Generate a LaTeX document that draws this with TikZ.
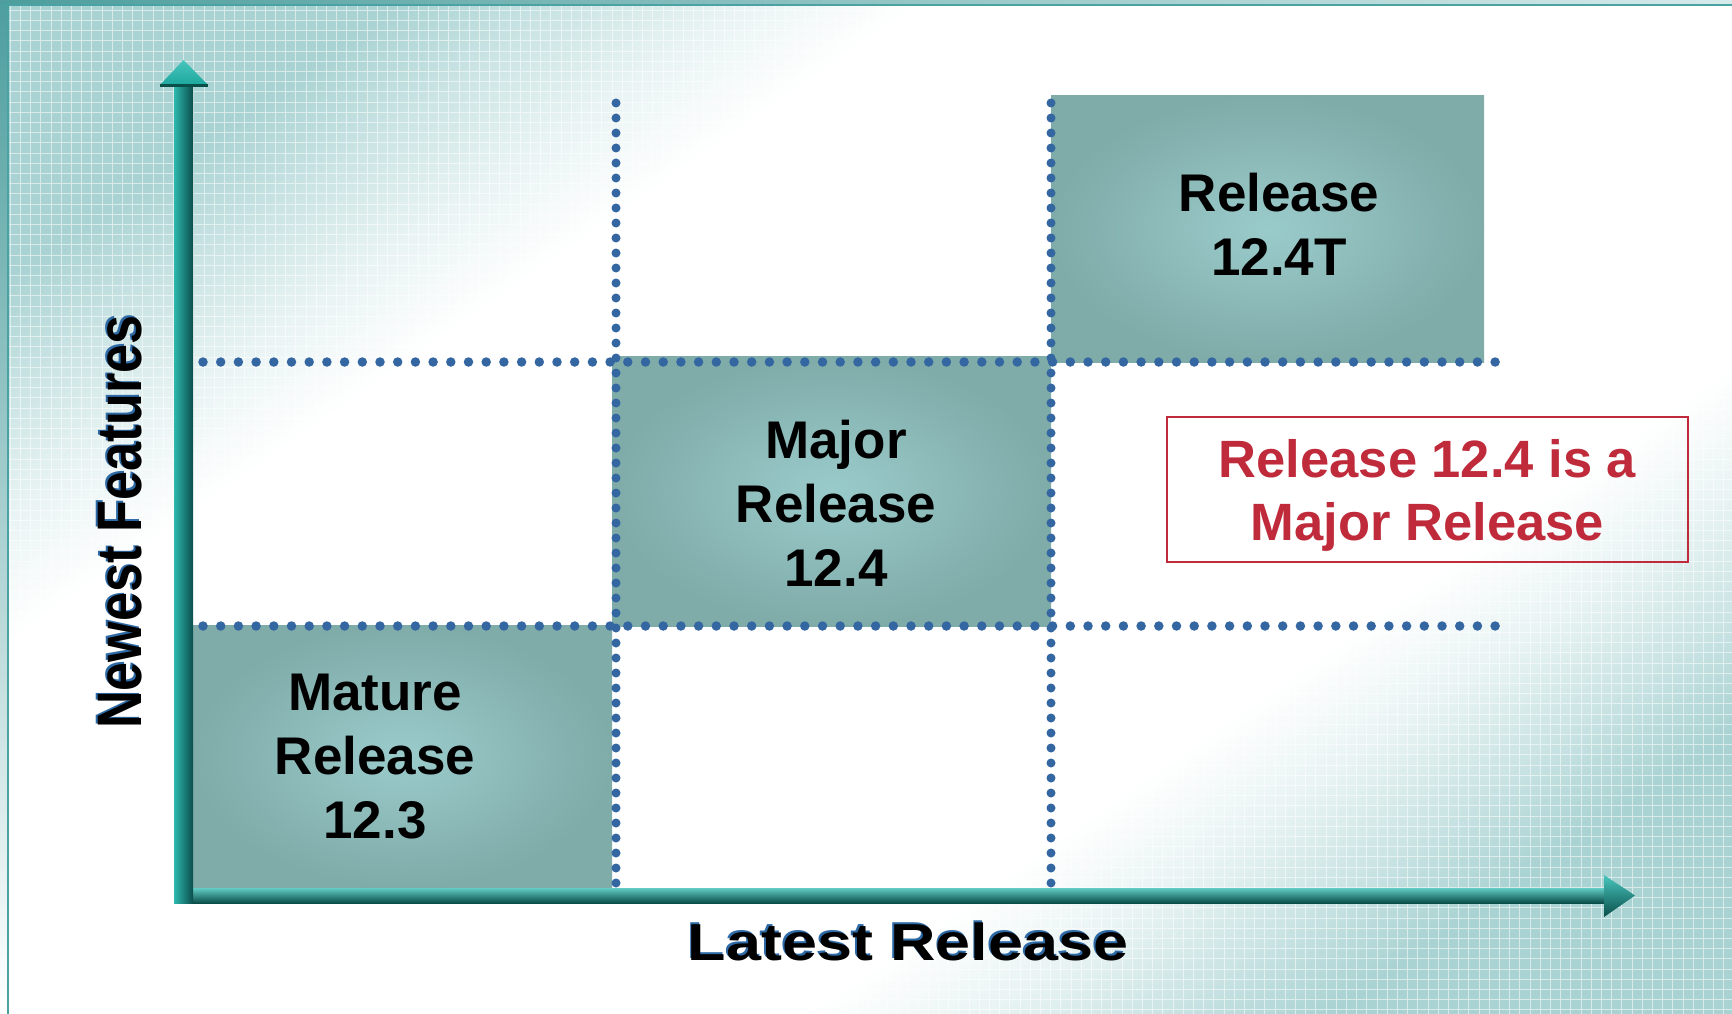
\documentclass[tikz,border=0pt]{standalone}
\usepackage{fontspec}
\setmainfont{Liberation Sans}
\usepackage{graphicx}
\definecolor{bgteal}{HTML}{A9D2D2}
\colorlet{bgq}{bgteal!25!white}
\colorlet{bgmid}{bgteal!60!white}
\definecolor{frameteal}{HTML}{4E9E9E}
\definecolor{framelight}{HTML}{D6EAEA}
\definecolor{frameline}{HTML}{4AA2A2}
\definecolor{boxin}{HTML}{9ACBCB}
\definecolor{boxout}{HTML}{7FABA8}
\definecolor{dotblue}{HTML}{3466A2}
\definecolor{axlight}{HTML}{62CCC4}
\definecolor{axmid}{HTML}{1CA79E}
\definecolor{axylight}{HTML}{2DB8AE}
\definecolor{axdark}{HTML}{0A4E4A}
\definecolor{axhead}{HTML}{48C6BD}
\definecolor{relred}{HTML}{BF2B3A}
\definecolor{labblue}{HTML}{2E6AA6}
\pgfdeclareverticalshading{bgshade}{100bp}{color(0bp)=(bgteal); color(33bp)=(bgteal); color(35.5bp)=(bgmid); color(38bp)=(bgq); color(40.5bp)=(white); color(59.5bp)=(white); color(62bp)=(bgq); color(64.5bp)=(bgmid); color(67bp)=(bgteal); color(100bp)=(bgteal)}
\begin{document}
\begin{tikzpicture}[x=1pt,y=-1pt,
  relbox/.style={shade, inner color=boxin, outer color=boxout, inner sep=0pt, outer sep=0pt, draw=none},
  boxtext/.style={font=\fontsize{53}{64}\selectfont\bfseries, align=center, text=black, inner sep=0pt},
  hdots/.style={draw=dotblue, line width=9.5pt, line cap=round, dash pattern=on 0pt off 17.7pt},
  vdots/.style={draw=dotblue, line width=9pt, line cap=round, dash pattern=on 0pt off 15pt},
  axlab/.style={font=\fontsize{52}{62}\selectfont\bfseries, inner sep=0pt},
]
\useasboundingbox (0,0) rectangle (1732,1014);
\fill[white] (0,0) rectangle (1732,1014);
\begin{scope}
  \clip (0,0) rectangle (1732,1014);
  \shade[shading=bgshade, shading angle=35] (-137,-496) rectangle (1869,1510);
  \draw[white, line width=0.9pt, opacity=0.55, step=10.2pt] (0,1014) grid (1732,0);
\end{scope}
% frame
\shade[top color=frameteal, bottom color=white] (0,0) rectangle (7,1014);
\shade[left color=frameteal, right color=framelight] (0,0) rectangle (1732,5);
\draw[frameline, line width=1.6pt] (8,0) -- (8,1014);
\draw[frameline, line width=2pt] (0,5.5) -- (1732,5.5);
% boxes
\node[relbox, minimum width=419pt, minimum height=262pt] (mbox) at (402.5,756) {};
\node[relbox, minimum width=439pt, minimum height=270pt] (jbox) at (831.5,491) {};
\node[relbox, minimum width=433pt, minimum height=266pt] (tbox) at (1267.5,229) {};
% dotted grid lines
\coordinate (h1s) at (203,362); \coordinate (h1e) at (1496,362);
\coordinate (h2s) at (203,626); \coordinate (h2e) at (1496,626);
\coordinate (v1s) at (616,103); \coordinate (v1e) at (616,883);
\coordinate (v2s) at (1051,103); \coordinate (v2e) at (1051,883);
\draw[hdots] (h1s) -- (h1e);
\draw[hdots] (h2s) -- (h2e);
\draw[vdots] (v1s) -- (v1e);
\draw[vdots] (v2s) -- (v2e);
% axes
\shade[top color=axlight, middle color=axmid, bottom color=axdark] (174,888) rectangle (1604,903);
\shade[left color=axylight, right color=axdark] (174,85) rectangle (193,903);
\shade[top color=axhead, bottom color=axmid] (160,85) -- (183.5,60) -- (208,85) -- cycle;
\draw[axdark, line width=3pt] (160,86) -- (208,86);
\shade[top color=axhead, bottom color=axdark] (1604,875) -- (1635,895.5) -- (1604,917) -- cycle;
% box texts
\node[boxtext] (mtext) at (375,757) {Mature\\Release\\12.3};
\node[boxtext] (jtext) at (836,503) {Major\\Release\\12.4};
\node[boxtext] (ttext) at (1279,224) {Release\\12.4T};
% note
\node[draw=relred, line width=2pt, minimum width=521pt, minimum height=145pt, text=relred,
      font=\fontsize{52.5}{63}\selectfont\bfseries, align=center, inner sep=0pt, text depth=0pt]
      (note) at (1427.5,489.5) {Release 12.4 is a\\Major Release};
% axis labels
\node[axlab, text=labblue, anchor=base] (xlabs) at (906.5,958.5) {\scalebox{1.21}[1]{Latest Release}};
\node[axlab, text=black, anchor=base] (xlab) at (908,960) {\scalebox{1.21}[1]{Latest Release}};
\node[axlab, text=labblue, rotate=90, anchor=base] (ylabs) at (139.5,520.5) {\scalebox{1}[1.21]{Newest Features}};
\node[axlab, text=black, rotate=90, anchor=base] (ylab) at (141,522) {\scalebox{1}[1.21]{Newest Features}};
\end{tikzpicture}
\end{document}
